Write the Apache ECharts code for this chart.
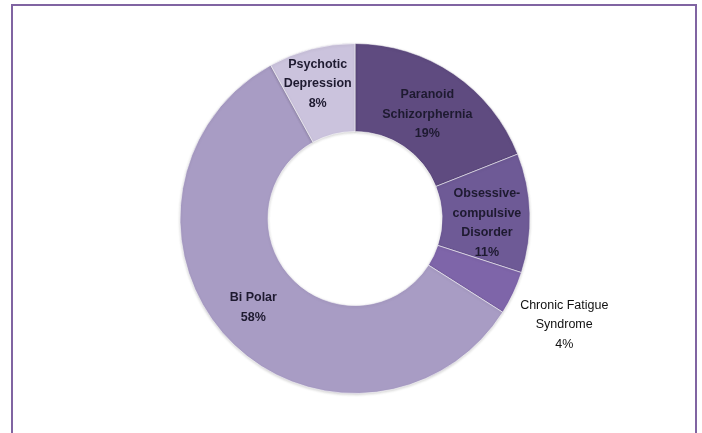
<!DOCTYPE html>
<html><head><meta charset="utf-8">
<script src="https://cdn.jsdelivr.net/npm/echarts@6/dist/echarts.min.js"></script>
<style>html,body{margin:0;padding:0;background:#fff}#c{width:702px;height:433px}</style>
</head><body><div id="c"></div>
<script>
const categories = ['Paranoid\nSchizorphernia', 'Obsessive-\ncompulsive\nDisorder', 'Chronic Fatigue\nSyndrome', 'Bi Polar', 'Psychotic\nDepression'];
const values = [19, 11, 4, 58, 8];
const colors = ['#5F4B80', '#6E5A96', '#7E65A9', '#A89CC4', '#CBC3DD'];
const labelOffsets = [[-3, 6.5], [-2, 9], [88, 49], [-4, -2.5], [-4, -5]];
const labelWeights = ['bold', 'bold', 'normal', 'bold', 'bold'];

const chart = echarts.init(document.getElementById('c'));
chart.setOption({
  animation: false,
  graphic: [{
    type: 'rect', shape: {x: 12, y: 5, width: 684, height: 460},
    style: {fill: 'none', stroke: '#8064A2', lineWidth: 2}, silent: true
  }],
  series: [{
    type: 'pie',
    center: [355, 218.5],
    radius: [87, 175],
    startAngle: 90,
    clockwise: true,
    avoidLabelOverlap: false,
    labelLine: {show: false},
    itemStyle: {borderColor: 'rgba(255,255,255,0.55)', borderWidth: 1,
      shadowColor: 'rgba(0,0,0,0.18)', shadowBlur: 3, shadowOffsetY: 1},
    label: {
      position: 'inside',
      fontFamily: 'Liberation Sans',
      fontSize: 12.5,
      lineHeight: 19.5,
      color: '#1E1A30',
      align: 'center',
      formatter: p => p.name + '\n' + p.value + '%'
    },
    data: categories.map((n, i) => ({
      name: n, value: values[i],
      itemStyle: {color: colors[i]},
      label: {offset: labelOffsets[i], fontWeight: labelWeights[i], color: i === 2 ? '#111' : '#1E1A30'}
    }))
  }]
});
</script></body></html>
